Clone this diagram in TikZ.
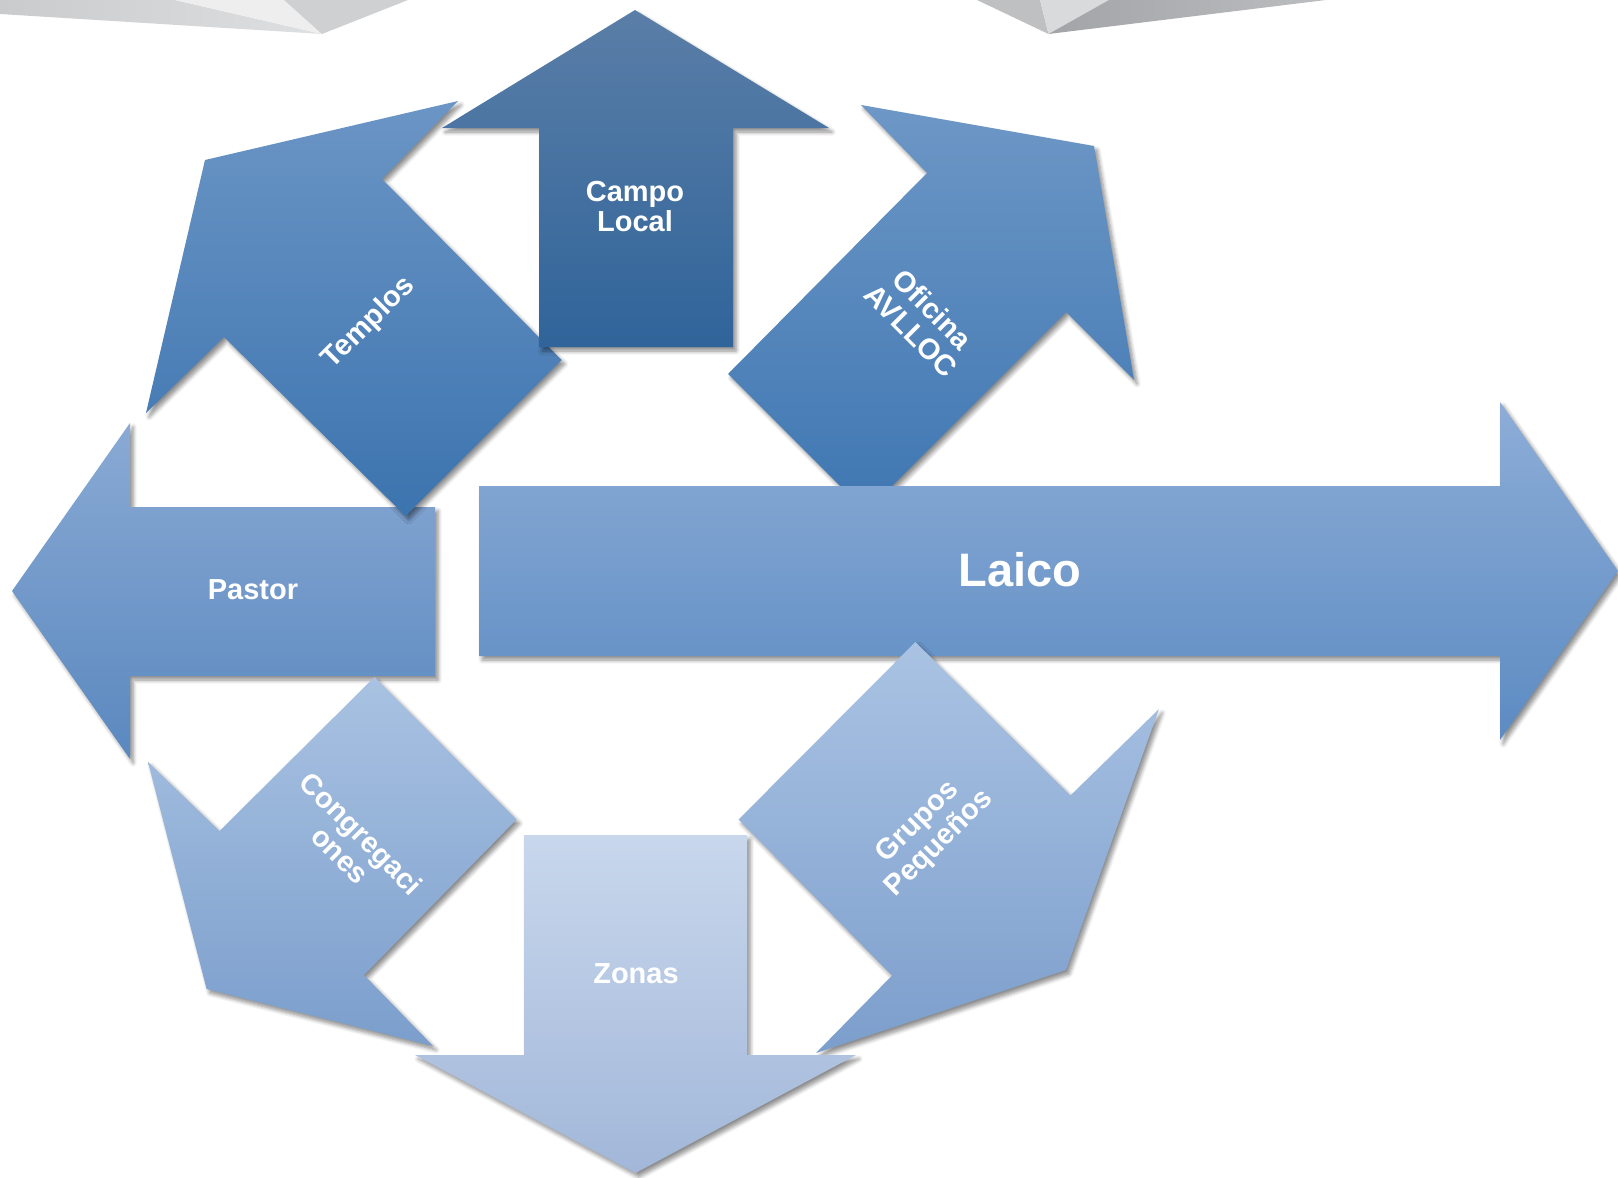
\documentclass[tikz,border=0pt]{standalone}
\usepackage{fontspec}
\setmainfont{Liberation Sans}
\usetikzlibrary{shadows.blur}
\definecolor{campoT}{HTML}{5A7EA7}
\definecolor{campoB}{HTML}{30649A}
\definecolor{templT}{HTML}{6B95C5}
\definecolor{templB}{HTML}{3C74AF}
\definecolor{oficT}{HTML}{6D97C6}
\definecolor{oficB}{HTML}{3F77B2}
\definecolor{pastT}{HTML}{8AAAD4}
\definecolor{pastB}{HTML}{5A88BF}
\definecolor{laicT}{HTML}{8DADD7}
\definecolor{laicB}{HTML}{5C8BC2}
\definecolor{congT}{HTML}{A9C2E2}
\definecolor{congB}{HTML}{7B9ECC}
\definecolor{zonaT}{HTML}{C8D7EC}
\definecolor{zonaB}{HTML}{A2B7D9}
\definecolor{grupT}{HTML}{AAC3E3}
\definecolor{grupB}{HTML}{7C9ECC}
\definecolor{shA}{HTML}{CACBCD}
\definecolor{shAr}{HTML}{DEDFE0}
\definecolor{shB}{HTML}{EEEEEF}
\definecolor{shC}{HTML}{CFD0D2}
\definecolor{shD}{HTML}{BFC0C2}
\definecolor{shE}{HTML}{D9DADC}
\definecolor{shF}{HTML}{A3A4A7}
\definecolor{shFr}{HTML}{BCBDBF}
\tikzset{
  bigarrow/.style={blur shadow={shadow xshift=1.6pt, shadow yshift=-2pt, shadow blur radius=2pt, shadow blur steps=6, shadow opacity=45}},
  lbl/.style={text=white, font=\bfseries\fontsize{14.5}{15}\selectfont, align=center, inner sep=0pt},
  biglbl/.style={lbl, font=\bfseries\fontsize{23.5}{25}\selectfont},
}
\begin{document}
\begin{tikzpicture}[x=0.5pt,y=-0.5pt]
\useasboundingbox (0,0) rectangle (1618,1178);
% decorative shards at the top
\shade[left color=shA, right color=shAr] (0,0) -- (175,0) -- (322,34) -- (0,14) -- cycle;
\fill[shB] (175,0) -- (284,0) -- (322,34) -- cycle;
\fill[shC] (284,0) -- (408,0) -- (322,34) -- cycle;
\fill[shD] (977,0) -- (1040,0) -- (1048.5,34) -- cycle;
\fill[shE] (1040,0) -- (1109,0) -- (1048.5,34) -- cycle;
\shade[left color=shF, right color=shFr] (1109,0) -- (1326,0) -- (1048.5,34) -- cycle;

% Pastor (left)
\path[bigarrow, top color=pastT, bottom color=pastB]
  (12,591) -- (130,423) -- (130,507) -- (435,507) -- (435,676) -- (130,676) -- (130,759) -- cycle;
% Templos (up-left)
\path[bigarrow, top color=templT, bottom color=templB]
  (458,101) -- (205,160) -- (146,413) -- (224,337) -- (405.5,516) -- (561.5,360) -- (382,179) -- cycle;
% Campo Local (up)
\path[bigarrow, top color=campoT, bottom color=campoB]
  (635,10) -- (829,128) -- (733,128) -- (733,347) -- (539,347) -- (539,128) -- (442,128) -- cycle;
% Oficina AVLLOC (up-right)
\path[bigarrow, top color=oficT, bottom color=oficB]
  (861,105) -- (1094,146) -- (1134,380) -- (1066,312) -- (866,512) -- (728,374) -- (927,173) -- cycle;
% Laico (right)
\path[bigarrow, top color=laicT, bottom color=laicB]
  (479,486) -- (1500,486) -- (1500,402) -- (1618,571) -- (1500,740) -- (1500,656) -- (479,656) -- cycle;
% Grupos Pequenos (down-right)
\path[bigarrow, top color=grupT, bottom color=grupB]
  (915.4,642) -- (1070.4,795.5) -- (1159,709) -- (1066,970) -- (816,1053) -- (892,975.5) -- (738.6,819.5) -- cycle;
% Congregaciones (down-left)
\path[bigarrow, top color=congT, bottom color=congB]
  (374.5,677) -- (516.5,819.5) -- (364,975) -- (433,1046) -- (206.6,989) -- (148,762) -- (219.5,831) -- cycle;
% Zonas (down)
\path[bigarrow, top color=zonaT, bottom color=zonaB]
  (524,835) -- (747,835) -- (747,1055) -- (856,1055) -- (635.5,1173) -- (415,1055) -- (524,1055) -- cycle;

% labels
\node[lbl] (campo) at (635,207) {Campo\\Local};
\node[lbl, rotate=45] (templos) at (369,323) {Templos};
\node[lbl, rotate=-45] (oficina) at (922,320) {Oficina\\AVLLOC};
\node[lbl] (pastor) at (253,590) {Pastor};
\node[biglbl] (laico) at (1020,570) {Laico};
\node[lbl, rotate=-45] (congreg) at (351,844) {Congregaci\\ones};
\node[lbl] (zonas) at (636,974) {Zonas};
\node[lbl, rotate=45] (grupos) at (929,833) {Grupos\\Pequeños};
\end{tikzpicture}
\end{document}
